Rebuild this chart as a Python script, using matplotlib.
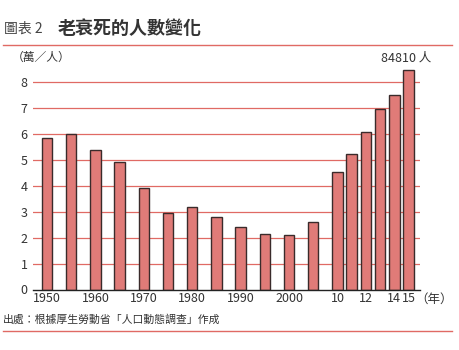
import matplotlib
matplotlib.use("Agg")
import matplotlib.pyplot as plt
from matplotlib.lines import Line2D

plt.rcParams['font.family'] = ['Noto Sans CJK TC', 'DejaVu Sans']

# data (10,000 persons)
years = [1950, 1955, 1960, 1965, 1970, 1975, 1980, 1985, 1990, 1995, 2000, 2005,
         2010, 2011, 2012, 2013, 2014, 2015]
deaths = [5.84, 6.00, 5.39, 4.91, 3.92, 2.94, 3.17, 2.79, 2.40, 2.13, 2.09, 2.59,
          4.53, 5.22, 6.09, 6.99, 7.51, 8.481]
tick_years = [1950, 1960, 1970, 1980, 1990, 2000, 2010, 2012, 2014, 2015]
tick_labels = ['1950', '1960', '1970', '1980', '1990', '2000', '10', '12', '14', '15']

BAR = '#e07b78'
EDGE = '#3a2b2b'
RED = '#e06a64'
TXT = '#333333'


def xpos(y):
    # 5-year steps before 2010, yearly steps (narrower) after
    if y <= 2010:
        return (y - 1950) / 5
    return 12 + (y - 2010) * 0.587


fig = plt.figure(figsize=(4.6, 3.5), dpi=100)
ax = fig.add_axes([33 / 460, 60.5 / 350, 387 / 460, 220.1 / 350])

xs = [xpos(y) for y in years]
ax.bar(xs, deaths, width=0.43, color=BAR, edgecolor=EDGE, linewidth=1.0, zorder=3)

ax.set_ylim(0, 8.5)
ax.set_xlim(-0.58, 15.41)
ax.set_yticks(range(0, 9))
ax.set_yticklabels([str(i) for i in range(0, 9)], fontsize=9, color=TXT)
ax.set_xticks([xpos(y) for y in tick_years])
ax.set_xticklabels(tick_labels, fontsize=9, color=TXT)
ax.tick_params(axis='both', length=0, pad=2)
ax.tick_params(axis='y', pad=4)

for v in range(1, 9):
    ax.axhline(v, color=RED, linewidth=0.9, zorder=1)

for s in ['top', 'right', 'left']:
    ax.spines[s].set_visible(False)
ax.spines['bottom'].set_color('#222222')
ax.spines['bottom'].set_linewidth(1.0)
ax.spines['bottom'].set_zorder(4)

ax.text(-1.45, 8.95, '（萬／人）', fontsize=8.5, color=TXT, ha='left', va='center',
        clip_on=False)
ax.text(xs[-1] + 0.95, 8.95, f'{int(round(deaths[-1] * 10000))} 人', fontsize=9,
        color=TXT, ha='right', va='center')
ax.text(15.22, -0.36, '（年）', fontsize=9, color=TXT, ha='left', va='center',
        clip_on=False)

# header and footer
fig.text(4 / 460, 1 - 29 / 350, '圖表 2', fontsize=10, color='#444444', va='center')
fig.text(58 / 460, 1 - 28 / 350, '老衰死的人數變化', fontsize=13, fontweight='bold',
         color='#333333', va='center')
fig.add_artist(Line2D([3 / 460, 452 / 460], [1 - 45 / 350, 1 - 45 / 350],
                      color=RED, linewidth=1.0, transform=fig.transFigure))
fig.text(3 / 460, 1 - 319 / 350, '出處：根據厚生勞動省「人口動態調查」作成', fontsize=7.8,
         color=TXT, va='center')
fig.add_artist(Line2D([3 / 460, 452 / 460], [1 - 331 / 350, 1 - 331 / 350],
                      color=RED, linewidth=1.0, transform=fig.transFigure))

fig.savefig('out.png', dpi=100, facecolor='white')
